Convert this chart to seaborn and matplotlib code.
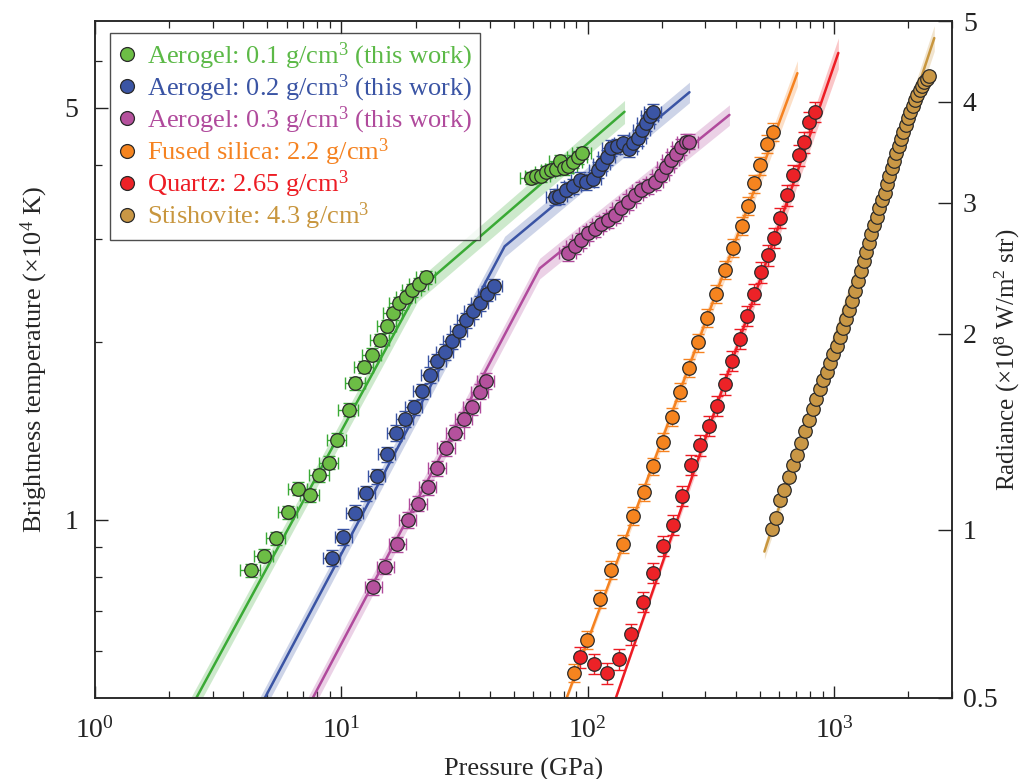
import numpy as np
import matplotlib
matplotlib.use("Agg")
import matplotlib.pyplot as plt
import seaborn as sns
from matplotlib.lines import Line2D
from matplotlib.ticker import FixedLocator, NullFormatter, NullLocator

# ---- data: pressure (GPa), brightness temperature (x1e4 K) ----
green_p = [4.28, 4.86, 5.44, 6.08, 6.66, 7.47, 8.15, 8.89, 9.61, 10.69, 11.41, 12.37, 13.29,
           14.33, 15.28, 16.16, 17.09, 18.24, 19.30, 20.60, 21.99,
           58.6, 61.4, 64.4, 67.4, 70.7, 74.0, 76.8, 79.8, 82.8, 86.8, 90.9, 94.4]
green_t = [0.822, 0.870, 0.931, 1.030, 1.130, 1.101, 1.191, 1.251, 1.368, 1.538, 1.705, 1.817, 1.906,
           2.02, 2.13, 2.24, 2.33, 2.39, 2.45, 2.51, 2.58,
           3.80, 3.83, 3.83, 3.89, 3.92, 3.94, 4.06, 3.95, 3.98, 4.05, 4.12, 4.19]

blue_p = [9.12, 10.20, 11.36, 12.64, 13.92, 15.32, 16.62, 18.13, 19.72, 21.25, 22.83, 24.53, 26.26,
          28.04, 29.9, 31.96, 34.1, 36.4, 38.9, 41.5,
          73.3, 76.4, 81.8, 87.0, 92.6, 98.6, 104.9, 109.9, 114.5, 119.6, 124.6, 131.2, 138.8,
          146.8, 153.3, 159.7, 166.3, 172.7, 178.1, 183.7]
blue_t = [0.863, 0.936, 1.029, 1.110, 1.186, 1.292, 1.404, 1.483, 1.552, 1.652, 1.763, 1.858, 1.926,
          2.01, 2.09, 2.18, 2.26, 2.33, 2.42, 2.49,
          3.53, 3.54, 3.63, 3.68, 3.77, 3.74, 3.78, 3.92, 4.02, 4.12, 4.27, 4.30, 4.36,
          4.25, 4.35, 4.44, 4.58, 4.71, 4.83, 4.92]

magenta_p = [13.50, 15.10, 16.89, 18.59, 20.54, 22.47, 24.53, 26.68, 29.02, 31.45, 33.88, 36.41, 38.51,
             83.1, 88.4, 94.1, 100.1, 106.6, 113.4, 120.6, 128.5, 136.7, 145.4, 154.8, 164.8,
             175.3, 186.6, 198.7, 208.2, 218.2, 228.5, 239.4, 250.8, 258.7]
magenta_t = [0.770, 0.834, 0.910, 1.0, 1.066, 1.137, 1.224, 1.323, 1.406, 1.481, 1.554, 1.650, 1.722,
             2.83, 2.91, 2.98, 3.06, 3.11, 3.18, 3.22, 3.29, 3.38, 3.46, 3.55, 3.63,
             3.68, 3.74, 3.85, 3.97, 4.08, 4.18, 4.29, 4.38, 4.38]

orange_p = [88.2, 99.5, 111.7, 123.7, 138.4, 152.9, 168.4, 184.3, 201.1, 219.3, 237.8, 258.7,
            281.4, 306.0, 332.9, 362.2, 390.2, 423.2, 445.9, 471.6, 500.6, 532.3, 563.0]
orange_t = [0.551, 0.626, 0.734, 0.822, 0.911, 1.017, 1.114, 1.233, 1.357, 1.497, 1.648, 1.81,
            2.0, 2.20, 2.42, 2.65, 2.89, 3.15, 3.41, 3.72, 3.99, 4.34, 4.55]

red_p = [92.6, 105.8, 119.2, 134.2, 150.1, 166.8, 184.3, 202.4, 222.2, 241.6, 263.6, 285.9, 309.8,
         336.1, 360.5, 386.6, 414.6, 444.6, 474.8, 505.3, 537.5, 572.1, 603.4, 641.8, 678.7,
         717.8, 757.1, 793.2, 839.0]
red_t = [0.585, 0.570, 0.550, 0.581, 0.640, 0.726, 0.814, 0.904, 0.982, 1.100, 1.241, 1.339, 1.445,
         1.561, 1.70, 1.86, 2.03, 2.22, 2.42, 2.63, 2.81, 3.01, 3.25, 3.55, 3.85,
         4.15, 4.37, 4.73, 4.92]

gold_p = [558.1, 581.5, 605.2, 628.1, 653.9, 678.7, 707.3, 734.2, 762.1, 788.2, 818.1, 844.6,
          873.5, 904.2, 932.6, 962.6, 992.6, 1024, 1053, 1087, 1118, 1150, 1182, 1216, 1245,
          1285, 1317, 1351, 1380, 1416, 1452, 1488, 1525, 1564, 1603, 1639, 1674, 1711, 1750,
          1787, 1826, 1867, 1908, 1950, 1994, 2037, 2081, 2129, 2175, 2222, 2272, 2321, 2372, 2416]
gold_t = [0.964, 1.009, 1.081, 1.124, 1.184, 1.240, 1.289, 1.352, 1.417, 1.477, 1.540, 1.604,
          1.667, 1.727, 1.784, 1.843, 1.909, 1.974, 2.045, 2.118, 2.189, 2.270, 2.353, 2.447, 2.542,
          2.646, 2.748, 2.849, 2.951, 3.053, 3.162, 3.266, 3.376, 3.486, 3.587, 3.711, 3.829, 3.945,
          4.064, 4.183, 4.304, 4.424, 4.551, 4.672, 4.796, 4.921, 5.03, 5.15, 5.25, 5.36, 5.44,
          5.52, 5.60, 5.66]

# fitted curves (knots) and relative band half-width at each knot
green_fit_p = [2.2, 20.4, 141]
green_fit_t = [0.442, 2.45, 4.92]
green_band = [0.042, 0.042, 0.045]
blue_fit_p = [4.2, 46.0, 258.7]
blue_fit_t = [0.443, 2.91, 5.31]
blue_band = [0.04, 0.04, 0.04]
magenta_fit_p = [6.6, 63.8, 375.8]
magenta_fit_t = [0.444, 2.67, 4.86]
magenta_band = [0.04, 0.04, 0.04]
orange_fit_p = [80, 709.3]
orange_fit_t = [0.485, 5.72]
orange_band = [0.012, 0.05]
red_fit_p = [128, 1040]
red_fit_t = [0.49, 6.19]
red_band = [0.005, 0.06]
gold_fit_p = [521, 2549]
gold_fit_t = [0.884, 6.56]
gold_band = [0.03, 0.05]

# radiance axis calibration: radiance tick values and matching temperatures
radiance_ticks = [0.5, 1, 2, 3, 4, 5]
radiance_temp = [0.5, 0.962, 2.07, 3.45, 5.12, 7.0]

labels = ["Aerogel: 0.1 g/cm$^3$ (this work)",
          "Aerogel: 0.2 g/cm$^3$ (this work)",
          "Aerogel: 0.3 g/cm$^3$ (this work)",
          "Fused silica: 2.2 g/cm$^3$",
          "Quartz: 2.65 g/cm$^3$",
          "Stishovite: 4.3 g/cm$^3$"]

sns.set_theme(style="ticks")
plt.rcParams["font.family"] = ["Liberation Serif", "DejaVu Serif"]
plt.rcParams["mathtext.fontset"] = "custom"
plt.rcParams["mathtext.rm"] = "Liberation Serif"
plt.rcParams["mathtext.it"] = "Liberation Serif:italic"
plt.rcParams["axes.linewidth"] = 1.1

fig = plt.figure(figsize=(10.3, 7.79), dpi=100)
ax = fig.add_axes([0.0922, 0.1045, 0.8318, 0.868])

series = [
    (green_p, green_t, green_fit_p, green_fit_t, green_band, "#3aaa35", "#6cbd45", "#5cb947", 0.09, 0.025),
    (blue_p, blue_t, blue_fit_p, blue_fit_t, blue_band, "#3a54a4", "#3b55a5", "#3a54a4", 0.08, 0.03),
    (magenta_p, magenta_t, magenta_fit_p, magenta_fit_t, magenta_band, "#b04a9c", "#b5519d", "#b04a9c", 0.08, 0.03),
    (orange_p, orange_t, orange_fit_p, orange_fit_t, orange_band, "#f58220", "#f5841f", "#f58220", 0.0, 0.035),
    (red_p, red_t, red_fit_p, red_fit_t, red_band, "#ed1c24", "#ec2227", "#ed1c24", 0.0, 0.04),
    (gold_p, gold_t, gold_fit_p, gold_fit_t, gold_band, "#c8963e", "#c99745", "#c8963e", 0.0, 0.015),
]

for p, t, fp, ft, fb, lc, mc, tc, xe, ye in series:
    fp = np.array(fp)
    ft = np.array(ft)
    fb = np.array(fb)
    ax.fill_between(fp, ft * (1 - fb), ft * (1 + fb), color=lc, alpha=0.25, lw=0, zorder=1)
    sns.lineplot(x=fp, y=ft, ax=ax, color=lc, lw=1.8, zorder=2, estimator=None, sort=False)
    p = np.array(p)
    t = np.array(t)
    ax.errorbar(p, t, xerr=p * xe if xe else None, yerr=t * ye, fmt="none",
                ecolor=lc, elinewidth=1.0, capsize=4, capthick=1.0, zorder=3)
    sns.scatterplot(x=p, y=t, ax=ax, color=mc, edgecolor="#2a2a2a", linewidth=0.9,
                    s=95, zorder=4, legend=False)

ax.set_xscale("log")
ax.set_yscale("log")
ax.set_xlim(1, 3000)
ax.set_ylim(0.5, 7)

ax.yaxis.set_major_locator(FixedLocator([1, 5]))
ax.yaxis.set_minor_locator(FixedLocator([0.6, 0.7, 0.8, 0.9, 2, 3, 4, 6]))
ax.yaxis.set_minor_formatter(NullFormatter())
ax.set_yticklabels(["1", "5"])

ax.tick_params(which="both", direction="in", top=True, right=False, colors="#222222",
               labelsize=20)
ax.tick_params(which="major", length=9, width=1.0)
ax.tick_params(which="minor", length=5, width=0.9)
ax.tick_params(axis="x", which="major", pad=14)
ax.tick_params(axis="y", which="major", pad=12)

ax.set_xlabel("Pressure (GPa)", fontsize=19, labelpad=10)
ax.set_ylabel("Brightness temperature (×10$^4$ K)", fontsize=19)
ax.yaxis.set_label_coords(-0.052, 0.5)

ax2 = ax.twinx()
ax2.set_yscale("log")
ax2.set_ylim(ax.get_ylim())
ax2.yaxis.set_major_locator(FixedLocator(radiance_temp))
ax2.yaxis.set_minor_locator(NullLocator())
ax2.set_yticklabels([f"{v:g}" for v in radiance_ticks])
ax2.tick_params(which="both", direction="in", length=10, width=1.0, labelsize=20, pad=8,
                colors="#222222")
ax2.set_ylabel("Radiance (×10$^8$ W/m$^2$ str)", fontsize=18)
ax2.yaxis.set_label_coords(1.048, 0.5)

handles = [Line2D([], [], marker="o", ls="none", mfc=s[6], mec="#2a2a2a", mew=0.9, ms=10)
           for s in series]
leg = ax.legend(handles, labels, loc="upper left", bbox_to_anchor=(0.0175, 0.983),
                borderaxespad=0, fontsize=19, frameon=True, fancybox=False,
                handlelength=0.7, handletextpad=0.4, labelspacing=0.02, borderpad=0.3)
leg.get_frame().set_edgecolor("#222222")
leg.get_frame().set_linewidth(1.0)
for txt, s in zip(leg.get_texts(), series):
    txt.set_color(s[7])

fig.savefig("out.png", dpi=100)
